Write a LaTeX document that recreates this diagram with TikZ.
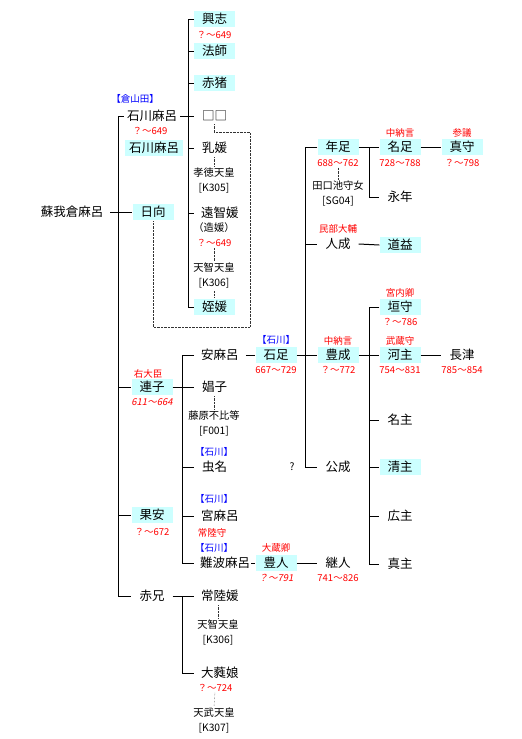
\documentclass[tikz,border=0pt]{standalone}
\usepackage{fontspec}
\setmainfont{Noto Sans CJK JP}
\newfontfamily\slantfont[FakeSlant=0.2]{Noto Sans CJK JP}
\usetikzlibrary{positioning}
\definecolor{hlcyan}{RGB}{204,255,255}
\definecolor{postred}{RGB}{255,0,0}
\definecolor{clanblue}{RGB}{0,0,255}
\tikzstyle{person} = [font=\fontsize{12.5}{14}\selectfont, minimum width=41pt,
minimum height=16pt, inner xsep=7pt, inner ysep=0pt]
\tikzstyle{hl} = [person, fill=hlcyan]
\tikzstyle{yrs} = [font=\fontsize{9.5}{11}\selectfont, text=postred, inner sep=0pt]
\tikzstyle{uji} = [font=\fontsize{9.5}{11}\selectfont, text=clanblue, inner sep=0pt]
\tikzstyle{spouse} = [font=\fontsize{10.3}{15}\selectfont, align=center, inner sep=1pt]
\tikzstyle{wed} = [densely dotted, gray!40!black, shorten <=1pt, shorten >=1pt]
\tikzstyle{conn} = [line width=1pt]

\begin{document}
\begin{tikzpicture}[x=1pt, y=-1pt]
    \useasboundingbox (0,0) rectangle (522,739);

    \node (soga) [person] at (72,212) {蘇我倉麻呂};
    \node (ishikawa) [person, inner xsep=3pt] at (152,116) {石川麻呂};
    \node (ishikawa2) [hl, inner xsep=4pt] at (154,148) {石川麻呂};
    \node (hyuga) [hl] at (153,212) {日向};
    \node (renshi) [hl] at (152,387) {連子};
    \node (hatayasu) [hl] at (152,515) {果安};
    \node (akae) [person] at (152,596) {赤兄};
    \node [uji] at (135,99) {【倉山田】};
    \node [yrs] at (150,131) {？～649};
    \node [yrs] at (148,374) {右大臣};
    \node [yrs, font=\slantfont\fontsize{9.5}{11}\selectfont] at (152,402) {611～664};
    \node [yrs] at (152,532) {？～672};

    \node (okoshi) [hl, anchor=west] at (194,19) {興志};
    \node (hoshi) [hl, anchor=west] at (194,51) {法師};
    \node (akai) [hl, anchor=west] at (194,83) {赤猪};
    \node (kuchi) [person, anchor=west] at (194,116) {□□};
    \node (chi) [person, anchor=west] at (194,148) {乳媛};
    \node (ochi) [person, anchor=west] at (194,213) {遠智媛};
    \node (mei) [hl, anchor=west] at (194,307) {姪媛};
    \node [yrs] at (214,35) {？～649};
    \node (kotoku) [spouse] at (214,181) {孝徳天皇\\{[K305]}};
    \node [spouse] at (214,228) {（造媛）};
    \node (ochiyrs) [yrs] at (214,243) {？～649};
    \node (tenji) [spouse] at (214,276) {天智天皇\\{[K306]}};

    \node (yasumaro) [person, anchor=west] at (194,355) {安麻呂};
    \node (shoshi) [person, anchor=west] at (194,387) {娼子};
    \node (mushina) [person, anchor=west] at (194,467) {虫名};
    \node (miyamaro) [person, anchor=west] at (194,516) {宮麻呂};
    \node (nanba) [person, anchor=west, inner xsep=1pt] at (199,563) {難波麻呂};
    \node (hitachi) [person, anchor=west] at (194,596) {常陸媛};
    \node (onu) [person, anchor=west] at (194,673) {大蕤娘};
    \node (fuhito) [spouse] at (214,424) {藤原不比等\\{[F001]}};
    \node [uji] at (214,452) {【石川】};
    \node [uji] at (214,499) {【石川】};
    \node [yrs] at (212,533) {常陸守};
    \node [uji] at (214,548) {【石川】};
    \node (tenji2) [spouse] at (218,633) {天智天皇\\{[K306]}};
    \node (onuyrs) [yrs] at (215,688) {？～724};
    \node (tenmu) [spouse] at (214,721) {天武天皇\\{[K307]}};

    \node (iwatari) [hl] at (276,355) {石足};
    \node [uji] at (276,340) {【石川】};
    \node [yrs] at (276,370) {667～729};
    \node (toyohito) [hl] at (276,563) {豊人};
    \node [yrs] at (276,548) {大蔵卿};
    \node [yrs, font=\slantfont\fontsize{9.5}{11}\selectfont] at (276,578) {？～791};

    \node (toshitari) [hl] at (338,147) {年足};
    \node (toshiyrs) [yrs] at (338,163) {688～762};
    \node (taguchi) [spouse] at (338,194) {田口池守女\\{[SG04]}};
    \node (hitonari) [person] at (338,244) {人成};
    \node [yrs] at (338,229) {民部大輔};
    \node (toyonari) [hl] at (338,355) {豊成};
    \node [yrs] at (338,341) {中納言};
    \node [yrs] at (338,370) {？～772};
    \node (kiminari) [person] at (338,467) {公成};
    \node [spouse] at (292,467) {?};
    \node (tsuguhito) [person] at (338,563) {継人};
    \node [yrs] at (338,578) {741～826};

    \node (natari) [hl] at (400,147) {名足};
    \node [yrs] at (400,133) {中納言};
    \node [yrs] at (400,163) {728～788};
    \node (nagatoshi) [person] at (400,197) {永年};
    \node (michimasu) [hl] at (400,245) {道益};
    \node (kakimori) [hl] at (400,307) {垣守};
    \node [yrs] at (400,293) {宮内卿};
    \node [yrs] at (400,322) {？～786};
    \node (kawanushi) [hl] at (400,355) {河主};
    \node [yrs] at (400,341) {武蔵守};
    \node [yrs] at (400,370) {754～831};
    \node (nanushi) [person] at (400,420) {名主};
    \node (kiyonushi) [hl] at (400,467) {清主};
    \node (hironushi) [person] at (400,516) {広主};
    \node (manushi) [person] at (400,564) {真主};

    \node (mamori) [hl] at (462,147) {真守};
    \node [yrs] at (462,133) {参議};
    \node [yrs] at (462,163) {？～798};
    \node (nagatsu) [person] at (462,355) {長津};
    \node [yrs] at (462,370) {785～854};

    \coordinate (t1) at (118,0);
    \coordinate (t2) at (188,0);
    \coordinate (t3) at (182,0);
    \coordinate (t4) at (305,0);
    \coordinate (t5) at (369,0);
    \coordinate (corner) at (250,327);

    \draw[conn] (soga.east) -- (hyuga.west);
    \draw[conn] (ishikawa.west) -| (t1 |- akae) -- (akae.west);
    \draw[conn] (t1 |- renshi) -- (renshi.west);
    \draw[conn] (t1 |- hatayasu) -- (hatayasu.west);

    \draw[conn] (ishikawa.east) -- (kuchi.west);
    \draw[conn] (okoshi.west) -| (t2 |- mei) -- (mei.west);
    \draw[conn] (t2 |- hoshi) -- (hoshi.west);
    \draw[conn] (t2 |- akai) -- (akai.west);
    \draw[conn] (t2 |- chi) -- (chi.west);
    \draw[conn] (t2 |- ochi) -- (ochi.west);

    \draw[conn] (renshi.east) -- (shoshi.west);
    \draw[conn, shorten >=5pt] (yasumaro.west) -| (t3 |- nanba) -- (nanba.west);
    \draw[conn] (t3 |- mushina) -- (mushina.west);
    \draw[conn] (t3 |- miyamaro) -- (miyamaro.west);
    \draw[conn] (akae.east) -- (hitachi.west);
    \draw[conn] (t3 |- hitachi) |- (onu.west);

    \draw[conn] (yasumaro.east) -- (iwatari.west);
    \draw[conn] (iwatari.east) -- (toyonari.west);
    \draw[conn] (nanba.east) -- (toyohito.west);
    \draw[conn] (toyohito.east) -- (tsuguhito.west);

    \draw[conn] (toshitari.west) -| (t4 |- kiminari) -- (kiminari.west);
    \draw[conn] (t4 |- hitonari) -- (hitonari.west);
    \draw[conn] (toshitari.east) -- (natari.west);
    \draw[conn] (t5 |- natari) |- (nagatoshi.west);
    \draw[conn] (natari.east) -- (mamori.west);
    \draw[conn] (hitonari.east) -- (michimasu.west);

    \draw[conn] (toyonari.east) -- (kawanushi.west);
    \draw[conn] (kakimori.west) -| (t5 |- manushi) -- (manushi.west);
    \draw[conn] (t5 |- nanushi) -- (nanushi.west);
    \draw[conn] (t5 |- kiyonushi) -- (kiyonushi.west);
    \draw[conn] (t5 |- hironushi) -- (hironushi.west);
    \draw[conn] (kawanushi.east) -- (nagatsu.west);

    \draw[wed] (chi.south -| kotoku) -- (kotoku.north);
    \draw[wed] (ochiyrs.south) -- (tenji.north);
    \draw[wed] (tenji.south) -- (mei.north -| tenji);
    \draw[wed] (shoshi.south -| fuhito) -- (fuhito.north);
    \draw[wed] (toshiyrs.south) -- (taguchi.north);
    \draw[wed] (hitachi.south -| tenji2) -- (tenji2.north);
    \draw[wed] (onuyrs.south) -- (tenmu.north);
    \draw[wed, shorten <=0pt] (kuchi.south -| kotoku) -- ++(0,8) -| (corner) -| (hyuga.south);

\end{tikzpicture}
\end{document}
